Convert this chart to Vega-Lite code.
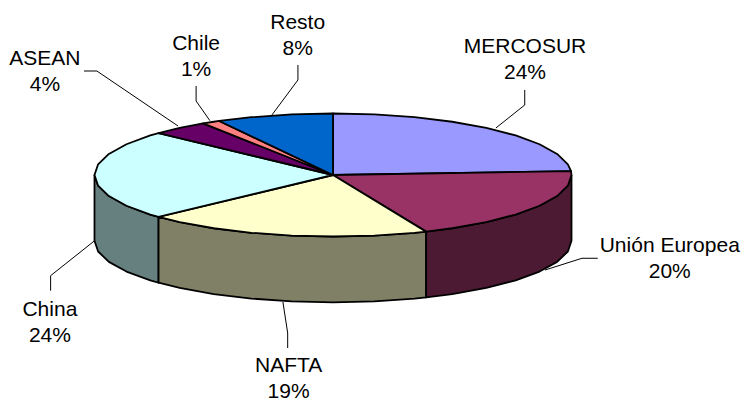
{"$schema":"https://vega.github.io/schema/vega-lite/v6.json","width":744,"height":400,"autosize":"none","padding":0,"background":"white","config":{"view":{"stroke":null}},
"datasets":{
"walls":[
{"shape":"China wall","i":0,"x":-0.7314,"y":-0.682},{"shape":"China wall","i":1,"x":-0.766,"y":-0.6428},{"shape":"China wall","i":2,"x":-0.866,"y":-0.5},{"shape":"China wall","i":3,"x":-0.9397,"y":-0.342},{"shape":"China wall","i":4,"x":-0.9848,"y":-0.1736},{"shape":"China wall","i":5,"x":-1,"y":0},{"shape":"China wall","i":6,"x":-1,"y":-1.07},{"shape":"China wall","i":7,"x":-0.9848,"y":-1.2436},{"shape":"China wall","i":8,"x":-0.9397,"y":-1.412},{"shape":"China wall","i":9,"x":-0.866,"y":-1.57},{"shape":"China wall","i":10,"x":-0.766,"y":-1.7128},{"shape":"China wall","i":11,"x":-0.7314,"y":-1.752},{"shape":"China wall","i":12,"x":-0.7314,"y":-0.682},
{"shape":"NAFTA wall","i":0,"x":0.3905,"y":-0.9206},{"shape":"NAFTA wall","i":1,"x":0.342,"y":-0.9397},{"shape":"NAFTA wall","i":2,"x":0.1736,"y":-0.9848},{"shape":"NAFTA wall","i":3,"x":0,"y":-1},{"shape":"NAFTA wall","i":4,"x":-0.1736,"y":-0.9848},{"shape":"NAFTA wall","i":5,"x":-0.342,"y":-0.9397},{"shape":"NAFTA wall","i":6,"x":-0.5,"y":-0.866},{"shape":"NAFTA wall","i":7,"x":-0.6428,"y":-0.766},{"shape":"NAFTA wall","i":8,"x":-0.7314,"y":-0.682},{"shape":"NAFTA wall","i":9,"x":-0.7314,"y":-1.752},{"shape":"NAFTA wall","i":10,"x":-0.6428,"y":-1.836},{"shape":"NAFTA wall","i":11,"x":-0.5,"y":-1.936},{"shape":"NAFTA wall","i":12,"x":-0.342,"y":-2.0097},{"shape":"NAFTA wall","i":13,"x":-0.1736,"y":-2.0548},{"shape":"NAFTA wall","i":14,"x":0,"y":-2.07},{"shape":"NAFTA wall","i":15,"x":0.1736,"y":-2.0548},{"shape":"NAFTA wall","i":16,"x":0.342,"y":-2.0097},{"shape":"NAFTA wall","i":17,"x":0.3905,"y":-1.9906},{"shape":"NAFTA wall","i":18,"x":0.3905,"y":-0.9206},
{"shape":"UE wall","i":0,"x":1,"y":0},{"shape":"UE wall","i":1,"x":0.9848,"y":-0.1736},{"shape":"UE wall","i":2,"x":0.9397,"y":-0.342},{"shape":"UE wall","i":3,"x":0.866,"y":-0.5},{"shape":"UE wall","i":4,"x":0.766,"y":-0.6428},{"shape":"UE wall","i":5,"x":0.6428,"y":-0.766},{"shape":"UE wall","i":6,"x":0.5,"y":-0.866},{"shape":"UE wall","i":7,"x":0.3905,"y":-0.9206},{"shape":"UE wall","i":8,"x":0.3905,"y":-1.9906},{"shape":"UE wall","i":9,"x":0.5,"y":-1.936},{"shape":"UE wall","i":10,"x":0.6428,"y":-1.836},{"shape":"UE wall","i":11,"x":0.766,"y":-1.7128},{"shape":"UE wall","i":12,"x":0.866,"y":-1.57},{"shape":"UE wall","i":13,"x":0.9397,"y":-1.412},{"shape":"UE wall","i":14,"x":0.9848,"y":-1.2436},{"shape":"UE wall","i":15,"x":1,"y":-1.07},{"shape":"UE wall","i":16,"x":1,"y":0}
],
"tops":[
{"shape":"MERCOSUR","i":0,"x":0,"y":0},{"shape":"MERCOSUR","i":1,"x":0,"y":1},{"shape":"MERCOSUR","i":2,"x":0.1736,"y":0.9848},{"shape":"MERCOSUR","i":3,"x":0.342,"y":0.9397},{"shape":"MERCOSUR","i":4,"x":0.5,"y":0.866},{"shape":"MERCOSUR","i":5,"x":0.6428,"y":0.766},{"shape":"MERCOSUR","i":6,"x":0.766,"y":0.6428},{"shape":"MERCOSUR","i":7,"x":0.866,"y":0.5},{"shape":"MERCOSUR","i":8,"x":0.9397,"y":0.342},{"shape":"MERCOSUR","i":9,"x":0.9848,"y":0.1736},{"shape":"MERCOSUR","i":10,"x":0.998,"y":0.0628},{"shape":"MERCOSUR","i":11,"x":0,"y":0},
{"shape":"Unión Europea","i":0,"x":0,"y":0},{"shape":"Unión Europea","i":1,"x":0.998,"y":0.0628},{"shape":"Unión Europea","i":2,"x":1,"y":0},{"shape":"Unión Europea","i":3,"x":0.9848,"y":-0.1736},{"shape":"Unión Europea","i":4,"x":0.9397,"y":-0.342},{"shape":"Unión Europea","i":5,"x":0.866,"y":-0.5},{"shape":"Unión Europea","i":6,"x":0.766,"y":-0.6428},{"shape":"Unión Europea","i":7,"x":0.6428,"y":-0.766},{"shape":"Unión Europea","i":8,"x":0.5,"y":-0.866},{"shape":"Unión Europea","i":9,"x":0.3905,"y":-0.9206},{"shape":"Unión Europea","i":10,"x":0,"y":0},
{"shape":"NAFTA","i":0,"x":0,"y":0},{"shape":"NAFTA","i":1,"x":0.3905,"y":-0.9206},{"shape":"NAFTA","i":2,"x":0.342,"y":-0.9397},{"shape":"NAFTA","i":3,"x":0.1736,"y":-0.9848},{"shape":"NAFTA","i":4,"x":0,"y":-1},{"shape":"NAFTA","i":5,"x":-0.1736,"y":-0.9848},{"shape":"NAFTA","i":6,"x":-0.342,"y":-0.9397},{"shape":"NAFTA","i":7,"x":-0.5,"y":-0.866},{"shape":"NAFTA","i":8,"x":-0.6428,"y":-0.766},{"shape":"NAFTA","i":9,"x":-0.7314,"y":-0.682},{"shape":"NAFTA","i":10,"x":0,"y":0},
{"shape":"China","i":0,"x":0,"y":0},{"shape":"China","i":1,"x":-0.7314,"y":-0.682},{"shape":"China","i":2,"x":-0.766,"y":-0.6428},{"shape":"China","i":3,"x":-0.866,"y":-0.5},{"shape":"China","i":4,"x":-0.9397,"y":-0.342},{"shape":"China","i":5,"x":-0.9848,"y":-0.1736},{"shape":"China","i":6,"x":-1,"y":0},{"shape":"China","i":7,"x":-0.9848,"y":0.1736},{"shape":"China","i":8,"x":-0.9397,"y":0.342},{"shape":"China","i":9,"x":-0.866,"y":0.5},{"shape":"China","i":10,"x":-0.766,"y":0.6428},{"shape":"China","i":11,"x":-0.7314,"y":0.682},{"shape":"China","i":12,"x":0,"y":0},
{"shape":"ASEAN","i":0,"x":0,"y":0},{"shape":"ASEAN","i":1,"x":-0.7314,"y":0.682},{"shape":"ASEAN","i":2,"x":-0.6428,"y":0.766},{"shape":"ASEAN","i":3,"x":-0.5446,"y":0.8387},{"shape":"ASEAN","i":4,"x":0,"y":0},
{"shape":"Chile","i":0,"x":0,"y":0},{"shape":"Chile","i":1,"x":-0.5446,"y":0.8387},{"shape":"Chile","i":2,"x":-0.5,"y":0.866},{"shape":"Chile","i":3,"x":-0.4772,"y":0.8788},{"shape":"Chile","i":4,"x":0,"y":0},
{"shape":"Resto","i":0,"x":0,"y":0},{"shape":"Resto","i":1,"x":-0.4772,"y":0.8788},{"shape":"Resto","i":2,"x":-0.342,"y":0.9397},{"shape":"Resto","i":3,"x":-0.1736,"y":0.9848},{"shape":"Resto","i":4,"x":0,"y":1},{"shape":"Resto","i":5,"x":0,"y":0}
],
"leaders":[
{"slice":"ASEAN","i":0,"x":-1.044,"y":1.691},{"slice":"ASEAN","i":1,"x":-0.99,"y":1.691},{"slice":"ASEAN","i":2,"x":-0.65,"y":0.797},
{"slice":"Chile","i":0,"x":-0.574,"y":1.447},{"slice":"Chile","i":1,"x":-0.574,"y":1.203},{"slice":"Chile","i":2,"x":-0.516,"y":0.883},
{"slice":"Resto","i":0,"x":-0.147,"y":1.789},{"slice":"Resto","i":1,"x":-0.147,"y":1.545},{"slice":"Resto","i":2,"x":-0.256,"y":0.976},
{"slice":"MERCOSUR","i":0,"x":0.804,"y":1.382},{"slice":"MERCOSUR","i":1,"x":0.804,"y":1.138},{"slice":"MERCOSUR","i":2,"x":0.683,"y":0.764},
{"slice":"Unión Europea","i":0,"x":1.11,"y":-1.354},{"slice":"Unión Europea","i":1,"x":1.044,"y":-1.354},{"slice":"Unión Europea","i":2,"x":0.889,"y":-1.545},
{"slice":"NAFTA","i":0,"x":-0.19,"y":-2.813},{"slice":"NAFTA","i":1,"x":-0.19,"y":-2.569},{"slice":"NAFTA","i":2,"x":-0.21,"y":-2.065},
{"slice":"China","i":0,"x":-1.184,"y":-1.881},{"slice":"China","i":1,"x":-1.184,"y":-1.637},{"slice":"China","i":2,"x":-1.001,"y":-1.073}
],
"labels":[
{"label":"MERCOSUR\n24%","x":0.805,"y":1.984},
{"label":"Resto\n8%","x":-0.148,"y":2.369},
{"label":"Chile\n1%","x":-0.574,"y":2.033},
{"label":"ASEAN\n4%","x":-1.208,"y":1.789},
{"label":"China\n24%","x":-1.187,"y":-2.293},
{"label":"NAFTA\n19%","x":-0.186,"y":-3.203},
{"label":"Unión Europea\n20%","x":1.412,"y":-1.247}
]},
"encoding":{
"x":{"field":"x","type":"quantitative","axis":null,"scale":{"domain":[-1.3962,1.7233],"nice":false,"zero":false}},
"y":{"field":"y","type":"quantitative","axis":null,"scale":{"domain":[-3.6585,2.8455],"nice":false,"zero":false}}
},
"layer":[
{"data":{"name":"walls"},"mark":{"type":"line","stroke":"#000000","strokeWidth":1.8,"strokeJoin":"round"},
"encoding":{"order":{"field":"i","type":"quantitative"},"detail":{"field":"shape"},
"fill":{"field":"shape","type":"nominal","legend":null,"scale":{"domain":["China wall","NAFTA wall","UE wall"],"range":["#668080","#808066","#4D1A33"]}}}},
{"data":{"name":"tops"},"mark":{"type":"line","stroke":"#000000","strokeWidth":1.8,"strokeJoin":"round"},
"encoding":{"order":{"field":"i","type":"quantitative"},"detail":{"field":"shape"},
"fill":{"field":"shape","type":"nominal","legend":null,"scale":{"domain":["MERCOSUR","Unión Europea","NAFTA","China","ASEAN","Chile","Resto"],"range":["#9999FF","#993366","#FFFFCC","#CCFFFF","#660066","#FF8080","#0066CC"]}}}},
{"data":{"name":"leaders"},"mark":{"type":"line","stroke":"#000000","strokeWidth":1},
"encoding":{"order":{"field":"i","type":"quantitative"},"detail":{"field":"slice"}}},
{"data":{"name":"labels"},"mark":{"type":"text","font":"Liberation Sans","fontSize":21,"color":"#000000","align":"center","baseline":"alphabetic","lineBreak":"\n","lineHeight":26},
"encoding":{"text":{"field":"label"}}}
],
"resolve":{"scale":{"fill":"independent"}}
}
